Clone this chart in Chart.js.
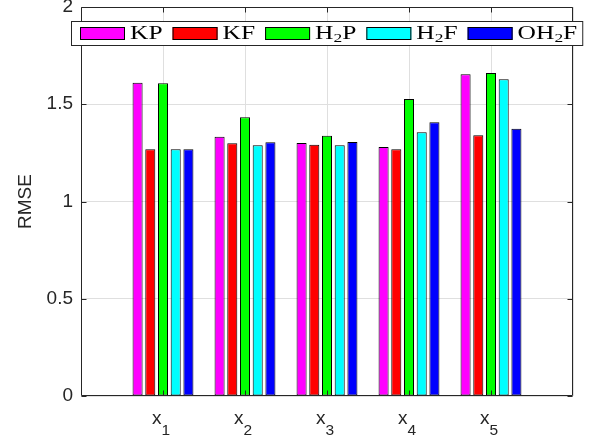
<!DOCTYPE html>
<html>
<head>
<meta charset="utf-8">
<script src="https://cdn.jsdelivr.net/npm/chart.js@4.4.0/dist/chart.umd.min.js"></script>
<style>
  html, body { margin: 0; padding: 0; background: #fff; }
  #wrap { width: 592px; height: 441px; }
</style>
</head>
<body>
<div id="wrap"><canvas id="chart" width="592" height="441"></canvas></div>
<script>
// Data ("_" marks a subscript character)
const categories = ['x_1', 'x_2', 'x_3', 'x_4', 'x_5'];
const seriesNames = ['KP', 'KF', 'H_2P', 'H_2F', 'OH_2F'];
const seriesColors = ['#ff00ff', '#ff0000', '#00ff00', '#00ffff', '#0000ff'];
const kpValues   = [1.611, 1.333, 1.301, 1.280, 1.654];
const kfValues   = [1.268, 1.299, 1.292, 1.268, 1.340];
const h2pValues  = [1.608, 1.433, 1.338, 1.527, 1.661];
const h2fValues  = [1.268, 1.289, 1.289, 1.356, 1.628];
const oh2fValues = [1.268, 1.304, 1.306, 1.407, 1.374];
const yTicks = [0, 0.5, 1, 1.5, 2];

const seriesValues = [kpValues, kfValues, h2pValues, h2fValues, oh2fValues];
const axisColor = '#262626';
const gridColor = '#dfdfdf';

// Split "H_2P" into runs of normal / subscript text
function splitRich(text) {
    const runs = [];
    for (let i = 0; i < text.length; i++) {
        const sub = text[i] === '_';
        const ch = sub ? text[++i] : text[i];
        const last = runs[runs.length - 1];
        if (last && last.sub === sub) last.t += ch;
        else runs.push({ t: ch, sub: sub });
    }
    return runs;
}

function richWidth(ctx, text, mainFont, subFont) {
    let w = 0;
    splitRich(text).forEach(r => {
        ctx.font = r.sub ? subFont : mainFont;
        w += ctx.measureText(r.t).width;
    });
    return w;
}

function drawRich(ctx, text, x, y, mainFont, subFont, subShift) {
    splitRich(text).forEach(r => {
        ctx.font = r.sub ? subFont : mainFont;
        ctx.fillText(r.t, x, r.sub ? y + subShift : y);
        x += ctx.measureText(r.t).width;
    });
}

// Box, inward ticks and x labels in the MATLAB style
const axesFrame = {
    id: 'axesFrame',
    afterDatasetsDraw(chart) {
        const { ctx, chartArea: a, scales } = chart;
        const L = a.left + 0.5, R = a.right - 0.5, T = a.top + 0.5, B = a.bottom - 0.5;
        const tl = 5;
        ctx.save();
        ctx.strokeStyle = axisColor;
        ctx.lineWidth = 1;
        ctx.beginPath();
        ctx.rect(L, T, R - L, B - T);
        categories.forEach((c, i) => {
            const px = Math.round(scales.x.getPixelForValue(i + 1)) + 0.5;
            ctx.moveTo(px, B); ctx.lineTo(px, B - tl);
            ctx.moveTo(px, T); ctx.lineTo(px, T + tl);
        });
        yTicks.forEach(v => {
            const py = Math.round(scales.y.getPixelForValue(v)) + 0.5;
            ctx.moveTo(L, py); ctx.lineTo(L + tl, py);
            ctx.moveTo(R, py); ctx.lineTo(R - tl, py);
        });
        ctx.stroke();

        // category labels with subscripts
        const mainFont = '19px "Liberation Sans"';
        const subFont = '15.5px "Liberation Sans"';
        ctx.fillStyle = axisColor;
        ctx.textAlign = 'left';
        ctx.textBaseline = 'alphabetic';
        categories.forEach((c, i) => {
            const px = scales.x.getPixelForValue(i + 1);
            const w = richWidth(ctx, c, mainFont, subFont);
            drawRich(ctx, c, px - w / 2 - 2, a.bottom + 28, mainFont, subFont, 11);
        });
        ctx.restore();
    }
};

// Boxed legend drawn inside the top of the axes
const boxLegend = {
    id: 'boxLegend',
    afterDraw(chart) {
        const { ctx, chartArea: a } = chart;
        const mainFont = '19px "Liberation Serif"';
        const subFont = '13px "Liberation Serif"';
        const stretch = 1.34;
        const swW = 45, swH = 13, gapT = 5, gapI = 10, padL = 9, padR = 6;
        const items = chart.data.datasets.map(ds => ({
            label: ds.label,
            color: ds.backgroundColor,
            w: richWidth(ctx, ds.label, mainFont, subFont) * stretch
        }));
        let total = padL + padR;
        items.forEach((it, i) => { total += swW + gapT + it.w + (i < items.length - 1 ? gapI : 0); });
        const left = Math.round((a.left + a.right) / 2 - total / 2);
        const top = a.top + 14, h = 25;

        ctx.save();
        ctx.fillStyle = '#fff';
        ctx.fillRect(left, top, total, h);
        ctx.strokeStyle = axisColor;
        ctx.lineWidth = 1;
        ctx.strokeRect(left + 0.5, top + 0.5, total - 1, h - 1);

        let x = left + padL;
        items.forEach(it => {
            ctx.fillStyle = it.color;
            ctx.fillRect(x, top + 6, swW, swH);
            ctx.strokeStyle = '#000';
            ctx.strokeRect(x + 0.5, top + 6.5, swW - 1, swH - 1);
            x += swW + gapT;
            ctx.save();
            ctx.translate(x, top + 18);
            ctx.scale(stretch, 1);
            ctx.fillStyle = '#000';
            ctx.textBaseline = 'alphabetic';
            drawRich(ctx, it.label, 0, 0, mainFont, subFont, 2.5);
            ctx.restore();
            x += it.w + gapI;
        });
        ctx.restore();
    }
};

const ctx = document.getElementById('chart').getContext('2d');
const rmseChart = new Chart(ctx, {
    type: 'bar',
    data: {
        datasets: seriesNames.map((name, k) => ({
            label: name,
            data: seriesValues[k].map((v, i) => ({ x: i + 1, y: v })),
            backgroundColor: seriesColors[k],
            borderColor: '#000',
            borderWidth: 1,
            borderSkipped: false,
            categoryPercentage: 0.775,
            barPercentage: 0.79
        }))
    },
    options: {
        responsive: false,
        animation: false,
        layout: { padding: { top: 7, right: 19, left: 0, bottom: 0 } },
        scales: {
            x: {
                type: 'linear',
                min: 0,
                max: 6,
                offset: false,
                ticks: { display: false, stepSize: 1 },
                grid: { color: gridColor, drawTicks: false, offset: false },
                border: { display: false },
                afterFit: s => { s.height = 45; s.paddingLeft = 0; s.paddingRight = 0; }
            },
            y: {
                min: 0,
                max: 2,
                afterBuildTicks: s => { s.ticks = yTicks.map(v => ({ value: v })); },
                ticks: {
                    color: axisColor,
                    font: { family: 'Liberation Sans', size: 19 },
                    padding: 8,
                    callback: v => String(v)
                },
                grid: { color: gridColor, drawTicks: false },
                border: { display: false },
                title: {
                    display: true,
                    text: 'RMSE',
                    color: axisColor,
                    font: { family: 'Liberation Sans', size: 19 },
                    padding: { top: 14, bottom: 0 }
                },
                afterFit: s => { s.width = 81; s.paddingTop = 0; s.paddingBottom = 0; }
            }
        },
        plugins: {
            legend: { display: false },
            tooltip: { enabled: false }
        }
    },
    plugins: [axesFrame, boxLegend]
});
</script>
</body>
</html>
